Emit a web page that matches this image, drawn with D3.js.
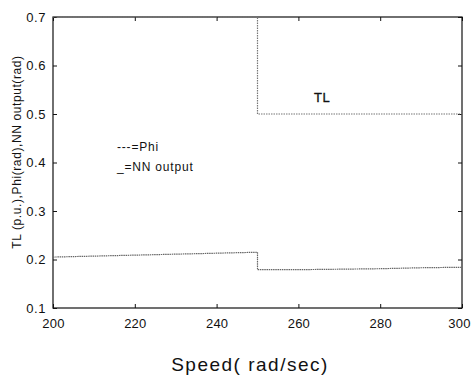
<!DOCTYPE html>
<meta charset="utf-8">
<script src="https://d3js.org/d3.v7.min.js"></script>
<style>
  body { margin: 0; background: #fff; overflow: hidden; }
  svg { display: block; }
  text { font-family: Arial, "Liberation Sans", sans-serif; fill: #111; }
</style>
<svg id="chart" width="476" height="376"></svg>
<script>
// data
const speedTL = [200, 250, 250, 300];
const tlValues = [0.7, 0.7, 0.5, 0.5];
const speedPhi = [200, 210, 220, 230, 240, 250, 250, 260, 270, 280, 290, 300];
const phiValues = [0.205, 0.207, 0.209, 0.211, 0.213, 0.215, 0.179, 0.179, 0.180, 0.181, 0.183, 0.184];
const xTicks = [200, 220, 240, 260, 280, 300];
const yTicks = [0.1, 0.2, 0.3, 0.4, 0.5, 0.6, 0.7];

const svg = d3.select("#chart");
const m = {left: 53, top: 17, right: 462, bottom: 308};

const x = d3.scaleLinear().domain([200, 300]).range([m.left, m.right]);
const y = d3.scaleLinear().domain([0.1, 0.7]).range([m.bottom, m.top]);

// frame
svg.append("rect")
  .attr("x", m.left).attr("y", m.top)
  .attr("width", m.right - m.left).attr("height", m.bottom - m.top)
  .attr("fill", "none").attr("stroke", "#111").attr("stroke-width", 1.2);

// axes with inward ticks
const fmt = d3.format(".1f");
const xAxis = svg.append("g").attr("transform", `translate(0,${m.bottom})`)
  .call(d3.axisBottom(x).tickValues(xTicks).tickSize(-4).tickPadding(11))
  .call(g => g.select(".domain").remove());
svg.append("g").attr("transform", `translate(0,${m.top})`)
  .call(d3.axisTop(x).tickValues(xTicks).tickSize(-4).tickFormat(""))
  .call(g => g.select(".domain").remove());
svg.append("g").attr("transform", `translate(${m.left},0)`)
  .call(d3.axisLeft(y).tickValues(yTicks).tickSize(-4).tickPadding(7).tickFormat(fmt))
  .call(g => g.select(".domain").remove());
svg.append("g").attr("transform", `translate(${m.right},0)`)
  .call(d3.axisRight(y).tickValues(yTicks).tickSize(-4).tickFormat(""))
  .call(g => g.select(".domain").remove());

svg.selectAll(".tick line").attr("stroke", "#111");
svg.selectAll(".tick text").attr("font-size", 13).attr("fill", "#111")
  .attr("letter-spacing", 0.6)
  .attr("font-family", "Arial, 'Liberation Sans', sans-serif");
xAxis.selectAll(".tick text").attr("letter-spacing", 0.2);
// keep the last label inside the window
xAxis.selectAll(".tick text").filter(d => d === 300).attr("dx", -3);

const line = d3.line().x(d => x(d[0])).y(d => y(d[1]));

// TL
svg.append("path")
  .datum(speedTL.map((s, i) => [s, tlValues[i]]))
  .attr("d", line)
  .attr("fill", "none").attr("stroke", "#777").attr("stroke-width", 1.2)
  .attr("stroke-dasharray", "1.5,1");

// Phi and NN output
svg.append("path")
  .datum(speedPhi.map((s, i) => [s, phiValues[i]]))
  .attr("d", line)
  .attr("fill", "none").attr("stroke", "#666").attr("stroke-width", 1.2)
  .attr("stroke-dasharray", "1.5,0.7");

// labels
svg.append("text").attr("x", 117).attr("y", 151).attr("font-size", 12)
  .attr("letter-spacing", 0.8).text("---=Phi");
svg.append("text").attr("x", 117).attr("y", 171).attr("font-size", 12)
  .attr("letter-spacing", 0.8).text("_=NN output");
svg.append("text").attr("x", 314).attr("y", 102).attr("font-size", 13)
  .attr("letter-spacing", 0.6).attr("stroke", "#111").attr("stroke-width", 0.3).text("TL");

svg.append("text")
  .attr("transform", "translate(21,152) rotate(-90)")
  .attr("text-anchor", "middle").attr("font-size", 12)
  .attr("letter-spacing", 0.6)
  .text("TL (p.u.),Phi(rad),NN output(rad)");

svg.append("text")
  .attr("x", 250).attr("y", 371)
  .attr("text-anchor", "middle").attr("font-size", 19)
  .attr("letter-spacing", 1.5)
  .text("Speed( rad/sec)");
</script>
